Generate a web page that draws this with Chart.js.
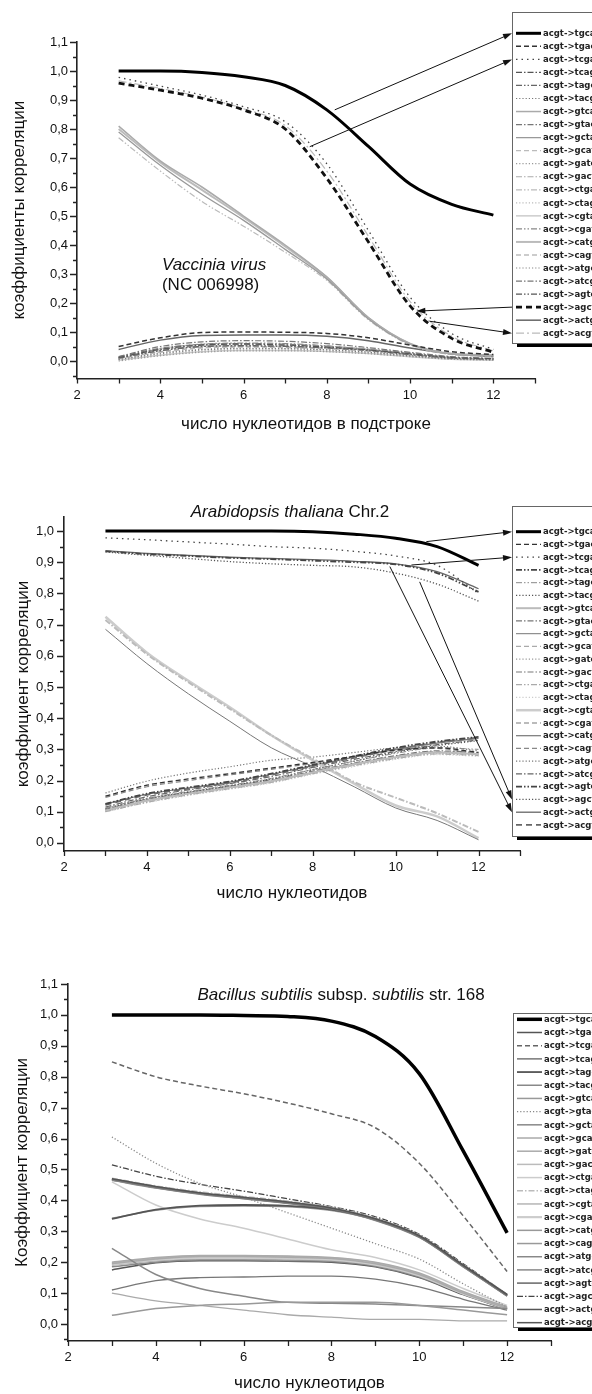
<!DOCTYPE html>
<html>
<head>
<meta charset="utf-8">
<script src="https://cdn.jsdelivr.net/npm/chart.js@4.4.1/dist/chart.umd.min.js"></script>
<style>
  html, body { margin: 0; padding: 0; background: #fff; }
  canvas { display: block; }
</style>
</head>
<body>
<canvas id="vaccinia" width="592" height="445"></canvas>
<canvas id="arabidopsis" width="592" height="475"></canvas>
<canvas id="bacillus" width="592" height="474"></canvas>
<script>
// x values: number of nucleotides in the substring
const nucleotides = [3, 4, 5, 6, 7, 8, 9, 10, 11, 12];

const permutations = [
    'acgt->tgca', 'acgt->tgac', 'acgt->tcga', 'acgt->tcag', 'acgt->tagc', 'acgt->tacg',
    'acgt->gtca', 'acgt->gtac', 'acgt->gcta', 'acgt->gcat', 'acgt->gatc', 'acgt->gact',
    'acgt->ctga', 'acgt->ctag', 'acgt->cgta', 'acgt->cgat', 'acgt->catg', 'acgt->cagt',
    'acgt->atgc', 'acgt->atcg', 'acgt->agtc', 'acgt->agct', 'acgt->actg', 'acgt->acgt'
];

// Vaccinia virus (NC 006998), one row per permutation in legend order
const vacciniaSeries = [
    [1.000, 1.000, 0.995, 0.980, 0.950, 0.866, 0.740, 0.610, 0.540, 0.503],
    [0.050, 0.080, 0.098, 0.100, 0.099, 0.095, 0.080, 0.055, 0.032, 0.022],
    [0.978, 0.948, 0.917, 0.877, 0.825, 0.680, 0.450, 0.220, 0.095, 0.040],
    [0.012, 0.040, 0.055, 0.058, 0.055, 0.048, 0.038, 0.025, 0.012, 0.008],
    [0.010, 0.035, 0.050, 0.052, 0.050, 0.045, 0.036, 0.022, 0.010, 0.006],
    [0.005, 0.025, 0.038, 0.042, 0.042, 0.038, 0.030, 0.018, 0.008, 0.004],
    [0.810, 0.690, 0.600, 0.500, 0.400, 0.290, 0.150, 0.060, 0.025, 0.020],
    [0.015, 0.050, 0.066, 0.070, 0.068, 0.060, 0.046, 0.030, 0.015, 0.009],
    [0.790, 0.675, 0.575, 0.485, 0.385, 0.283, 0.145, 0.058, 0.024, 0.018],
    [0.008, 0.030, 0.045, 0.048, 0.046, 0.042, 0.034, 0.020, 0.010, 0.006],
    [0.000, 0.018, 0.030, 0.035, 0.035, 0.032, 0.025, 0.015, 0.006, 0.003],
    [0.012, 0.038, 0.052, 0.056, 0.054, 0.049, 0.040, 0.026, 0.013, 0.008],
    [0.770, 0.655, 0.550, 0.465, 0.375, 0.278, 0.142, 0.056, 0.022, 0.016],
    [0.004, 0.022, 0.034, 0.038, 0.038, 0.034, 0.027, 0.016, 0.007, 0.004],
    [0.003, 0.020, 0.032, 0.036, 0.036, 0.033, 0.026, 0.015, 0.006, 0.003],
    [0.010, 0.042, 0.058, 0.062, 0.060, 0.052, 0.040, 0.026, 0.013, 0.007],
    [0.800, 0.685, 0.590, 0.495, 0.395, 0.288, 0.148, 0.060, 0.025, 0.020],
    [0.008, 0.032, 0.046, 0.050, 0.048, 0.044, 0.035, 0.022, 0.011, 0.006],
    [0.006, 0.028, 0.040, 0.044, 0.043, 0.039, 0.031, 0.019, 0.009, 0.005],
    [0.014, 0.044, 0.057, 0.060, 0.058, 0.051, 0.041, 0.027, 0.013, 0.007],
    [0.010, 0.036, 0.050, 0.053, 0.051, 0.046, 0.037, 0.023, 0.011, 0.006],
    [0.958, 0.934, 0.906, 0.866, 0.800, 0.630, 0.410, 0.190, 0.078, 0.030],
    [0.040, 0.072, 0.088, 0.090, 0.090, 0.085, 0.070, 0.045, 0.025, 0.015],
    [0.966, 0.940, 0.910, 0.870, 0.812, 0.655, 0.430, 0.205, 0.085, 0.035]
];

// Arabidopsis thaliana Chr.2
const arabidopsisSeries = [
    [1.000, 1.000, 1.000, 1.000, 1.000, 0.998, 0.990, 0.977, 0.950, 0.890],
    [0.150, 0.185, 0.205, 0.222, 0.240, 0.258, 0.278, 0.298, 0.305, 0.290],
    [0.978, 0.972, 0.965, 0.958, 0.950, 0.945, 0.935, 0.920, 0.890, 0.800],
    [0.125, 0.158, 0.178, 0.197, 0.222, 0.250, 0.278, 0.305, 0.325, 0.340],
    [0.112, 0.143, 0.165, 0.185, 0.207, 0.235, 0.262, 0.287, 0.305, 0.300],
    [0.110, 0.142, 0.163, 0.183, 0.205, 0.235, 0.262, 0.290, 0.312, 0.328],
    [0.104, 0.135, 0.158, 0.178, 0.198, 0.226, 0.252, 0.275, 0.290, 0.285],
    [0.108, 0.140, 0.162, 0.182, 0.203, 0.230, 0.256, 0.280, 0.295, 0.290],
    [0.685, 0.575, 0.478, 0.390, 0.305, 0.245, 0.180, 0.112, 0.072, 0.010],
    [0.106, 0.138, 0.160, 0.180, 0.200, 0.228, 0.254, 0.278, 0.292, 0.288],
    [0.102, 0.133, 0.156, 0.176, 0.196, 0.224, 0.250, 0.272, 0.288, 0.282],
    [0.715, 0.605, 0.515, 0.430, 0.345, 0.270, 0.195, 0.145, 0.095, 0.035],
    [0.100, 0.130, 0.154, 0.174, 0.194, 0.222, 0.248, 0.270, 0.285, 0.280],
    [0.100, 0.129, 0.152, 0.172, 0.192, 0.220, 0.245, 0.268, 0.283, 0.278],
    [0.725, 0.610, 0.520, 0.435, 0.345, 0.265, 0.190, 0.120, 0.085, 0.015],
    [0.105, 0.137, 0.159, 0.179, 0.199, 0.227, 0.253, 0.276, 0.291, 0.286],
    [0.125, 0.156, 0.176, 0.195, 0.220, 0.248, 0.275, 0.300, 0.320, 0.335],
    [0.146, 0.180, 0.200, 0.218, 0.236, 0.255, 0.276, 0.296, 0.303, 0.285],
    [0.160, 0.198, 0.224, 0.244, 0.265, 0.275, 0.290, 0.305, 0.310, 0.295],
    [0.115, 0.148, 0.170, 0.190, 0.213, 0.242, 0.268, 0.293, 0.315, 0.330],
    [0.935, 0.926, 0.920, 0.914, 0.910, 0.905, 0.900, 0.893, 0.865, 0.805],
    [0.933, 0.922, 0.912, 0.902, 0.895, 0.890, 0.885, 0.865, 0.830, 0.775],
    [0.937, 0.928, 0.922, 0.916, 0.912, 0.908, 0.903, 0.895, 0.870, 0.815],
    [0.122, 0.154, 0.174, 0.193, 0.218, 0.246, 0.273, 0.300, 0.322, 0.338]
];

// Bacillus subtilis subsp. subtilis str. 168
const bacillusSeries = [
    [1.000, 1.000, 1.000, 0.998, 0.995, 0.980, 0.930, 0.810, 0.560, 0.295],
    [0.470, 0.445, 0.425, 0.410, 0.395, 0.375, 0.340, 0.285, 0.190, 0.095],
    [0.848, 0.800, 0.770, 0.745, 0.715, 0.680, 0.635, 0.520, 0.350, 0.170],
    [0.468, 0.442, 0.422, 0.407, 0.392, 0.372, 0.337, 0.282, 0.188, 0.092],
    [0.340, 0.370, 0.383, 0.385, 0.382, 0.370, 0.340, 0.285, 0.190, 0.095],
    [0.465, 0.440, 0.420, 0.405, 0.390, 0.370, 0.335, 0.280, 0.185, 0.090],
    [0.028, 0.050, 0.060, 0.065, 0.070, 0.070, 0.070, 0.060, 0.045, 0.030],
    [0.605, 0.520, 0.455, 0.410, 0.360, 0.310, 0.260, 0.210, 0.130, 0.055],
    [0.245, 0.160, 0.115, 0.090, 0.070, 0.067, 0.065, 0.060, 0.055, 0.050],
    [0.200, 0.215, 0.222, 0.222, 0.220, 0.215, 0.200, 0.165, 0.105, 0.055],
    [0.195, 0.210, 0.218, 0.218, 0.216, 0.212, 0.195, 0.160, 0.100, 0.050],
    [0.198, 0.212, 0.220, 0.220, 0.218, 0.214, 0.198, 0.162, 0.103, 0.052],
    [0.460, 0.385, 0.340, 0.310, 0.275, 0.240, 0.215, 0.175, 0.115, 0.060],
    [0.472, 0.447, 0.428, 0.413, 0.398, 0.378, 0.343, 0.288, 0.193, 0.097],
    [0.100, 0.075, 0.060, 0.045, 0.030, 0.022, 0.015, 0.015, 0.010, 0.010],
    [0.192, 0.207, 0.214, 0.214, 0.212, 0.208, 0.192, 0.157, 0.098, 0.050],
    [0.190, 0.205, 0.210, 0.210, 0.207, 0.205, 0.190, 0.155, 0.100, 0.050],
    [0.342, 0.368, 0.380, 0.382, 0.379, 0.367, 0.337, 0.282, 0.188, 0.093],
    [0.185, 0.200, 0.207, 0.207, 0.205, 0.202, 0.187, 0.152, 0.097, 0.048],
    [0.110, 0.140, 0.150, 0.152, 0.155, 0.155, 0.145, 0.120, 0.080, 0.045],
    [0.466, 0.441, 0.421, 0.406, 0.391, 0.371, 0.336, 0.281, 0.186, 0.091],
    [0.515, 0.478, 0.452, 0.430, 0.405, 0.380, 0.347, 0.290, 0.195, 0.095],
    [0.469, 0.444, 0.424, 0.409, 0.394, 0.374, 0.339, 0.284, 0.189, 0.094],
    [0.175, 0.198, 0.205, 0.205, 0.203, 0.200, 0.185, 0.150, 0.095, 0.048]
];

// arrows: curve point (data units) <-> legend row
const vacciniaArrows = [
    { x: 8.19, y: 0.866, row: 0, head: 'legend' },
    { x: 7.59, y: 0.739, row: 2, head: 'legend' },
    { x: 10.15, y: 0.172, row: 21, head: 'curve' },
    { x: 10.47, y: 0.137, row: 23, head: 'legend' }
];
const arabidopsisArrows = [
    { x: 10.74, y: 0.966, row: 0, head: 'legend' },
    { x: 10.38, y: 0.891, row: 2, head: 'legend' },
    { x: 9.86, y: 0.886, row: 22, head: 'legend' },
    { x: 10.58, y: 0.837, row: 21, head: 'legend' }
];

// text placed in data units
const vacciniaNotes = [
    { x: 4.04, y: 0.331, align: 'left', parts: [['Vaccinia virus', true]] },
    { x: 4.04, y: 0.262, align: 'left', parts: [['(NC 006998)', false]] }
];
const arabidopsisNotes = [
    { x: 7.45, y: 1.061, align: 'center', parts: [['Arabidopsis thaliana', true], [' Chr.2', false]] }
];
const bacillusNotes = [
    { x: 8.22, y: 1.065, align: 'center',
      parts: [['Bacillus subtilis', true], [' subsp. ', false], ['subtilis', true], [' str. 168', false]] }
];

// line styles
const dashPatterns = {
    solid: [], dash: [5, 3], dot: [1.2, 2], dotWide: [1.5, 4], dashDot: [6, 2, 1.5, 2],
    dashDotDot: [6, 2, 1.5, 2, 1.5, 2], boldDash: [6, 4], longDashDot: [8, 3, 2, 3]
};

const vacciniaColors = ['#000', '#333', '#444', '#555', '#666', '#777', '#aaa', '#777', '#999', '#bbb', '#999', '#aaa',
    '#bbb', '#bbb', '#ccc', '#888', '#bbb', '#999', '#888', '#777', '#555', '#111', '#666', '#bbb'];
const vacciniaWidths = [3, 1.5, 1.3, 1.2, 1.2, 1, 1.5, 1.2, 1.3, 1.2, 1.2, 1.2, 1.2, 1.2, 1.5, 1.2, 2, 1.2, 1.2, 1.2, 1.2, 2.8, 1.5, 1.2];
const vacciniaDashes = ['solid', 'dash', 'dotWide', 'dashDot', 'dashDotDot', 'dot', 'solid', 'dashDot', 'solid', 'dash', 'dot', 'dashDot',
    'dashDotDot', 'dot', 'solid', 'dashDotDot', 'solid', 'dash', 'dot', 'dashDot', 'dashDotDot', 'boldDash', 'solid', 'longDashDot'];

const arabidopsisColors = ['#000', '#333', '#444', '#444', '#888', '#555', '#bbb', '#777', '#777', '#aaa', '#999', '#bbb',
    '#aaa', '#ccc', '#ccc', '#bbb', '#777', '#888', '#777', '#666', '#444', '#555', '#666', '#666'];
const arabidopsisWidths = [3, 1.3, 1.3, 1.8, 1, 1.3, 2, 1.2, 1, 1.2, 1.2, 2, 1.2, 1.2, 2.5, 2, 1.2, 1.2, 1.2, 1.2, 1.8, 1.3, 1.3, 1.8];
const arabidopsisDashes = ['solid', 'dash', 'dotWide', 'dashDotDot', 'dashDotDot', 'dot', 'solid', 'dashDot', 'solid', 'dash', 'dot', 'dashDot',
    'dashDotDot', 'dot', 'solid', 'dash', 'solid', 'dash', 'dot', 'dashDot', 'dashDotDot', 'dot', 'solid', 'boldDash'];

const bacillusColors = ['#000', '#555', '#666', '#777', '#555', '#888', '#999', '#888', '#888', '#aaa', '#aaa', '#bbb',
    '#ccc', '#bbb', '#aaa', '#ccc', '#999', '#999', '#888', '#777', '#666', '#444', '#555', '#555'];
const bacillusWidths = [3.5, 1.5, 1.5, 1.5, 1.8, 1.5, 1.5, 1.3, 1.5, 1.5, 1.5, 1.5, 1.5, 1.3, 1.3, 2.2, 1.5, 1.5, 1.5, 1.3, 1.5, 1.3, 1.5, 1.5];
const bacillusDashes = ['solid', 'solid', 'dash', 'solid', 'solid', 'solid', 'solid', 'dot', 'solid', 'solid', 'solid', 'solid',
    'solid', 'dashDot', 'solid', 'solid', 'solid', 'solid', 'solid', 'solid', 'solid', 'dashDot', 'solid', 'solid'];

Chart.defaults.font.family = '"Liberation Sans", Arial, sans-serif';
Chart.defaults.color = '#111';
Chart.defaults.animation = false;

function drawArrow(ctx, x1, y1, x2, y2) {
    const a = Math.atan2(y2 - y1, x2 - x1);
    const c = Math.cos(a), s = Math.sin(a);
    ctx.beginPath();
    ctx.moveTo(x1, y1);
    ctx.lineTo(x2 - 7 * c, y2 - 7 * s);
    ctx.stroke();
    ctx.beginPath();
    ctx.moveTo(x2, y2);
    ctx.lineTo(x2 - 9 * c + 3 * s, y2 - 9 * s - 3 * c);
    ctx.lineTo(x2 - 9 * c - 3 * s, y2 - 9 * s + 3 * c);
    ctx.closePath();
    ctx.fill();
}

const decorations = {
    id: 'decorations',
    afterDraw(chart, args, opts) {
        const { ctx } = chart;
        const { x, y } = chart.scales;
        ctx.save();

        // tick marks, long for labelled ticks
        ctx.strokeStyle = '#222';
        ctx.lineWidth = 1.3;
        ctx.beginPath();
        for (const t of x.ticks) {
            const px = Math.round(x.getPixelForValue(t.value)) + 0.5;
            ctx.moveTo(px, x.top);
            ctx.lineTo(px, x.top + 5);
        }
        for (const t of y.ticks) {
            const py = Math.round(y.getPixelForValue(t.value)) + 0.5;
            ctx.moveTo(y.right, py);
            ctx.lineTo(y.right - (t.label !== '' ? 7 : 4), py);
        }
        ctx.stroke();

        // notes / titles
        ctx.textBaseline = 'middle';
        ctx.fillStyle = '#111';
        for (const n of opts.notes) {
            const fonts = n.parts.map(p => (p[1] ? 'italic ' : '') + '17px "Liberation Sans", Arial, sans-serif');
            let total = 0;
            const widths = n.parts.map((p, i) => { ctx.font = fonts[i]; const w = ctx.measureText(p[0]).width; total += w; return w; });
            let px = x.getPixelForValue(n.x) - (n.align === 'center' ? total / 2 : 0);
            const py = y.getPixelForValue(n.y);
            n.parts.forEach((p, i) => {
                ctx.font = fonts[i];
                ctx.textAlign = 'left';
                ctx.fillText(p[0], px, py);
                px += widths[i];
            });
        }

        // legend box
        const L = opts.legend;
        const rowY = i => L.first + i * L.gap;
        ctx.fillStyle = '#000';
        ctx.fillRect(L.left + 5, L.bottom, 200, 4);
        ctx.fillStyle = '#fff';
        ctx.fillRect(L.left, L.top, 200, L.bottom - L.top);
        ctx.strokeStyle = '#666';
        ctx.lineWidth = 1;
        ctx.strokeRect(L.left + 0.5, L.top + 0.5, 200, L.bottom - L.top);
        chart.data.datasets.forEach((ds, i) => {
            const ry = rowY(i);
            ctx.strokeStyle = ds.borderColor;
            ctx.lineWidth = ds.borderWidth;
            ctx.setLineDash(ds.borderDash);
            ctx.beginPath();
            ctx.moveTo(L.left + 4, ry);
            ctx.lineTo(L.left + 29, ry);
            ctx.stroke();
            ctx.setLineDash([]);
            ctx.fillStyle = '#222';
            ctx.font = 'bold 8.5px "DejaVu Sans", sans-serif';
            ctx.textAlign = 'left';
            ctx.fillText(ds.label, L.left + 31, ry + 0.5);
        });

        // arrows between curves and legend rows
        ctx.strokeStyle = '#111';
        ctx.fillStyle = '#111';
        ctx.lineWidth = 1;
        for (const a of opts.arrows) {
            const cx = x.getPixelForValue(a.x), cy = y.getPixelForValue(a.y);
            const lx = L.left, ly = rowY(a.row);
            if (a.head === 'legend') drawArrow(ctx, cx, cy, lx, ly);
            else drawArrow(ctx, lx, ly, cx, cy);
        }
        ctx.restore();
    }
};

function yLabel(v) {
    const k = Math.round(v * 20);
    return (k % 2 === 0 && k >= 0) ? (k / 20).toFixed(1).replace('.', ',') : '';
}

function buildChart(id, p) {
    const datasets = p.series.map((values, i) => ({
        label: permutations[i],
        data: values,
        borderColor: p.colors[i],
        borderWidth: p.widths[i],
        borderDash: dashPatterns[p.dashes[i]],
        pointRadius: 0,
        fill: false,
        cubicInterpolationMode: 'monotone'
    }));
    const canvas = document.getElementById(id);
    return new Chart(canvas, {
        type: 'line',
        data: { labels: nucleotides, datasets },
        options: {
            responsive: false,
            layout: { padding: { top: p.frame.top, right: 592 - p.frame.right, left: 0, bottom: 0 } },
            plugins: {
                legend: { display: false },
                tooltip: { enabled: false },
                decorations: { legend: p.legend, arrows: p.arrows, notes: p.notes }
            },
            scales: {
                x: {
                    type: 'linear',
                    min: 2, max: 13,
                    afterFit: s => { s.height = canvas.height - p.frame.bottom; },
                    border: { display: true, color: '#222', width: 1.6 },
                    grid: { drawOnChartArea: false, tickLength: 5, tickColor: 'rgba(0,0,0,0)' },
                    ticks: {
                        stepSize: 1, autoSkip: false, maxRotation: 0, padding: 4,
                        font: { size: 13 }, color: '#111',
                        callback: v => (v % 2 === 0 && v <= 12) ? String(v) : ''
                    },
                    title: { display: true, text: p.xTitle, font: { size: 17 }, color: '#111', padding: { top: 0, bottom: p.frame.xTitlePad } }
                },
                y: {
                    min: p.frame.yMin, max: p.frame.yMax,
                    afterFit: s => { s.width = p.frame.left; },
                    border: { display: true, color: '#222', width: 1.6 },
                    grid: { drawOnChartArea: false, tickLength: 7, tickColor: 'rgba(0,0,0,0)' },
                    ticks: {
                        stepSize: 0.05, includeBounds: false, autoSkip: false, maxTicksLimit: 100,
                        padding: p.frame.yLabelPad, font: { size: 13 }, color: '#111',
                        callback: yLabel
                    },
                    title: { display: true, text: p.yTitle, font: { size: 17 }, color: '#111', padding: { top: p.frame.yTitlePad, bottom: 0 } }
                }
            }
        },
        plugins: [decorations]
    });
}

buildChart('vaccinia', {
    series: vacciniaSeries, colors: vacciniaColors, widths: vacciniaWidths, dashes: vacciniaDashes,
    frame: { left: 77, right: 535, top: 42, bottom: 378.4, yMin: -0.06, yMax: 1.1, yLabelPad: 2, yTitlePad: 9.4, xTitlePad: 10.4 },
    legend: { left: 512, top: 12, bottom: 343, first: 33.3, gap: 13.04 },
    arrows: vacciniaArrows, notes: vacciniaNotes,
    xTitle: 'число нуклеотидов в подстроке', yTitle: 'коэффициенты корреляции'
});

buildChart('arabidopsis', {
    series: arabidopsisSeries, colors: arabidopsisColors, widths: arabidopsisWidths, dashes: arabidopsisDashes,
    frame: { left: 64, right: 520, top: 72, bottom: 406, yMin: -0.026, yMax: 1.045, yLabelPad: 3, yTitlePad: 13.4, xTitlePad: 16.4 },
    legend: { left: 512, top: 61, bottom: 391, first: 86.7, gap: 12.75 },
    arrows: arabidopsisArrows, notes: arabidopsisNotes,
    xTitle: 'число нуклеотидов', yTitle: 'коэффициент корреляции'
});

buildChart('bacillus', {
    series: bacillusSeries, colors: bacillusColors, widths: bacillusWidths, dashes: bacillusDashes,
    frame: { left: 68, right: 551, top: 64, bottom: 421, yMin: -0.055, yMax: 1.1, yLabelPad: 3, yTitlePad: 12.4, xTitlePad: 0 },
    legend: { left: 513, top: 93, bottom: 407, first: 99.3, gap: 13.19 },
    arrows: [], notes: bacillusNotes,
    xTitle: 'число нуклеотидов', yTitle: 'Коэффициент корреляции'
});
</script>
</body>
</html>
